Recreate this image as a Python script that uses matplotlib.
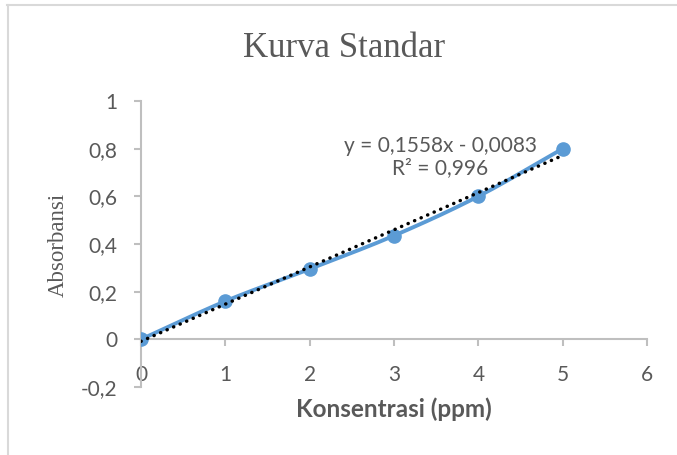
"""Kurva Standar — absorbansi vs konsentrasi, gaya grafik Excel."""

import matplotlib

matplotlib.use("Agg")
import matplotlib.pyplot as plt
import numpy as np
from matplotlib.lines import Line2D
from matplotlib.ticker import FuncFormatter

# data
konsentrasi = [0, 1, 2, 3, 4, 5]
absorbansi = [0.0, 0.16, 0.295, 0.435, 0.6, 0.8]
x_ticks = [0, 1, 2, 3, 4, 5, 6]
y_ticks = [-0.2, 0, 0.2, 0.4, 0.6, 0.8, 1.0]
eq_text = "y = 0,1558x - 0,0083\nR² = 0,996"

BLUE = "#5B9BD5"
TEXT = "#595959"
AXIS = "#BFBFBF"
SANS = ["Lato", "DejaVu Sans"]
SERIF = ["Liberation Serif", "DejaVu Serif"]


def smooth_curve(xs, ys, n=30):
    """Catmull-Rom, mirip garis 'smoothed' Excel."""
    p = np.column_stack([xs, ys]).astype(float)
    p = np.vstack([2 * p[0] - p[1], p, 2 * p[-1] - p[-2]])
    out = []
    t = np.linspace(0, 1, n)[:, None]
    for i in range(1, len(p) - 2):
        p0, p1, p2, p3 = p[i - 1], p[i], p[i + 1], p[i + 2]
        seg = 0.5 * ((2 * p1) + (-p0 + p2) * t + (2 * p0 - 5 * p1 + 4 * p2 - p3) * t**2
                     + (-p0 + 3 * p1 - 3 * p2 + p3) * t**3)
        out.append(seg)
    out = np.vstack(out)
    return out[:, 0], out[:, 1]


fig = plt.figure(figsize=(6.77, 4.55), dpi=100)
ax = fig.add_axes([0.2083, 0.1495, 0.7474, 0.6285])

sx, sy = smooth_curve(konsentrasi, absorbansi)
ax.plot(sx, sy, color=BLUE, lw=2.8, solid_capstyle="round", zorder=3)
ax.plot(konsentrasi, absorbansi, "o", color=BLUE, ms=9.5, zorder=4)

# trendline linear
slope, intercept = np.polyfit(konsentrasi, absorbansi, 1)
tx = np.array([konsentrasi[0], konsentrasi[-1]])
ax.plot(tx, slope * tx + intercept, color="black", lw=2.5,
        linestyle=(0, (0.05, 2.0)), dash_capstyle="round", zorder=5)

ax.text(3.55, 0.765, eq_text, ha="center", va="center", color=TEXT,
        fontsize=15, family=SANS, linespacing=1.1)

ax.set_xlim(0, 6)
ax.set_ylim(-0.2, 1.0)
ax.set_xticks(x_ticks)
ax.set_yticks(y_ticks)
fmt = FuncFormatter(lambda v, _: f"{v:g}".replace(".", ","))
ax.xaxis.set_major_formatter(fmt)
ax.yaxis.set_major_formatter(fmt)

for s in ("top", "right"):
    ax.spines[s].set_visible(False)
ax.spines["bottom"].set_position(("data", 0))
ax.spines["bottom"].set_color(AXIS)
ax.spines["left"].set_color(AXIS)
ax.spines["bottom"].set_linewidth(1.5)
ax.spines["left"].set_linewidth(1.5)
ax.tick_params(axis="both", colors=AXIS, length=5, width=1.5, labelcolor=TEXT,
               labelsize=15)
ax.tick_params(axis="x", pad=13.5)
ax.tick_params(axis="y", pad=12)
for lbl in ax.get_xticklabels() + ax.get_yticklabels():
    lbl.set_family(SANS)

fig.text(0.508, 0.893, "Kurva Standar", ha="center", va="center", color=TEXT,
         fontsize=25, family=SERIF)
fig.text(0.0857, 0.4615, "Absorbansi", ha="center", va="center", rotation=90,
         color=TEXT, fontsize=16.5, family=SERIF)
fig.text(0.582, 0.101, "Konsentrasi (ppm)", ha="center", va="center",
         color=TEXT, fontsize=17.5, fontweight="bold", family=SANS)

# bingkai area grafik (hanya kiri dan atas yang terlihat)
fig.add_artist(Line2D([7 / 677, 1], [1 - 4.5 / 455] * 2, color="#D9D9D9", lw=1.5))
fig.add_artist(Line2D([7.5 / 677] * 2, [0, 1 - 4.5 / 455], color="#D9D9D9", lw=1.5))

fig.savefig("out.png", dpi=100)
